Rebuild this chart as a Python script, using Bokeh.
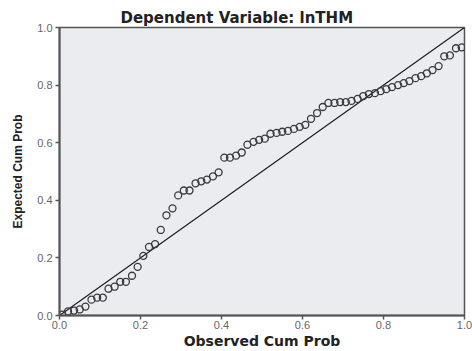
from bokeh.plotting import figure
from bokeh.models import FixedTicker, Range1d
from bokeh.embed import file_html
from bokeh.resources import INLINE

title_text = "Dependent Variable: lnTHM"
x_label = "Observed Cum Prob"
y_label = "Expected Cum Prob"
tick_values = [0.0, 0.2, 0.4, 0.6, 0.8, 1.0]

observed = [0.007, 0.021, 0.036, 0.050, 0.064, 0.079, 0.093, 0.107, 0.121, 0.136,
            0.150, 0.164, 0.179, 0.193, 0.207, 0.221, 0.236, 0.250, 0.264, 0.279,
            0.293, 0.307, 0.321, 0.336, 0.350, 0.364, 0.379, 0.393, 0.407, 0.421,
            0.436, 0.450, 0.464, 0.479, 0.493, 0.507, 0.521, 0.536, 0.550, 0.564,
            0.579, 0.593, 0.607, 0.621, 0.636, 0.650, 0.664, 0.679, 0.693, 0.707,
            0.721, 0.736, 0.750, 0.764, 0.779, 0.793, 0.807, 0.821, 0.836, 0.850,
            0.864, 0.879, 0.893, 0.907, 0.921, 0.936, 0.950, 0.964, 0.979, 0.993]
expected = [0.003, 0.014, 0.017, 0.021, 0.031, 0.055, 0.062, 0.062, 0.093, 0.100,
            0.117, 0.117, 0.138, 0.169, 0.207, 0.238, 0.248, 0.297, 0.348, 0.372,
            0.417, 0.434, 0.434, 0.459, 0.466, 0.472, 0.483, 0.497, 0.548, 0.548,
            0.555, 0.566, 0.593, 0.603, 0.610, 0.614, 0.631, 0.634, 0.638, 0.641,
            0.648, 0.655, 0.662, 0.683, 0.703, 0.724, 0.738, 0.738, 0.741, 0.741,
            0.745, 0.752, 0.762, 0.769, 0.772, 0.779, 0.786, 0.793, 0.800, 0.807,
            0.814, 0.824, 0.831, 0.841, 0.852, 0.866, 0.900, 0.903, 0.928, 0.931]
ref_line = [0.0, 1.0]

p = figure(width=472, height=351, output_backend="svg", toolbar_location=None,
           x_range=Range1d(0, 1), y_range=Range1d(0, 1),
           min_border_left=59, min_border_right=8, min_border_top=27, min_border_bottom=34)

p.background_fill_color = "#ebecf0"
p.border_fill_color = "white"
p.outline_line_color = "#555555"
p.outline_line_width = 1.5
p.grid.visible = False

p.title.text = title_text
p.title.text_font = "DejaVu Sans"
p.title.text_font_size = "15px"
p.title.text_font_style = "bold"
p.title.text_color = "#222222"
p.title.align = "left"
p.title.offset = 61
p.title.standoff = 1

for ax in (p.xaxis[0], p.yaxis[0]):
    ax.ticker = FixedTicker(ticks=tick_values)
    ax.major_label_overrides = {v: f"{v:.1f}" for v in tick_values}
    ax.minor_tick_line_color = None
    ax.major_tick_out = 4
    ax.major_tick_in = 0
    ax.major_tick_line_color = "#555555"
    ax.major_tick_line_width = 1.5
    ax.axis_line_color = "#555555"
    ax.axis_line_width = 2
    ax.major_label_text_font = "Liberation Sans"
    ax.major_label_text_font_size = "11px"
    ax.major_label_text_color = "#666666"
    ax.axis_label_text_font_style = "bold"
    ax.axis_label_text_color = "#222222"

p.xaxis.axis_label = x_label
p.yaxis.axis_label = y_label
p.xaxis.axis_label_text_font = "DejaVu Sans"
p.xaxis.axis_label_text_font_size = "14px"
p.yaxis.axis_label_text_font = "Liberation Sans"
p.yaxis.axis_label_text_font_size = "12px"
p.xaxis.major_label_standoff = 1
p.yaxis.major_label_standoff = 3
p.xaxis.axis_label_standoff = 1
p.yaxis.axis_label_standoff = 9

p.line(ref_line, ref_line, line_color="#1a1a1a", line_width=1.1)
p.scatter(observed, expected, marker="circle", size=7, fill_color=None,
          line_color="#3a3a3a", line_width=1.3)

open("out.html", "w").write(file_html(p, INLINE))
